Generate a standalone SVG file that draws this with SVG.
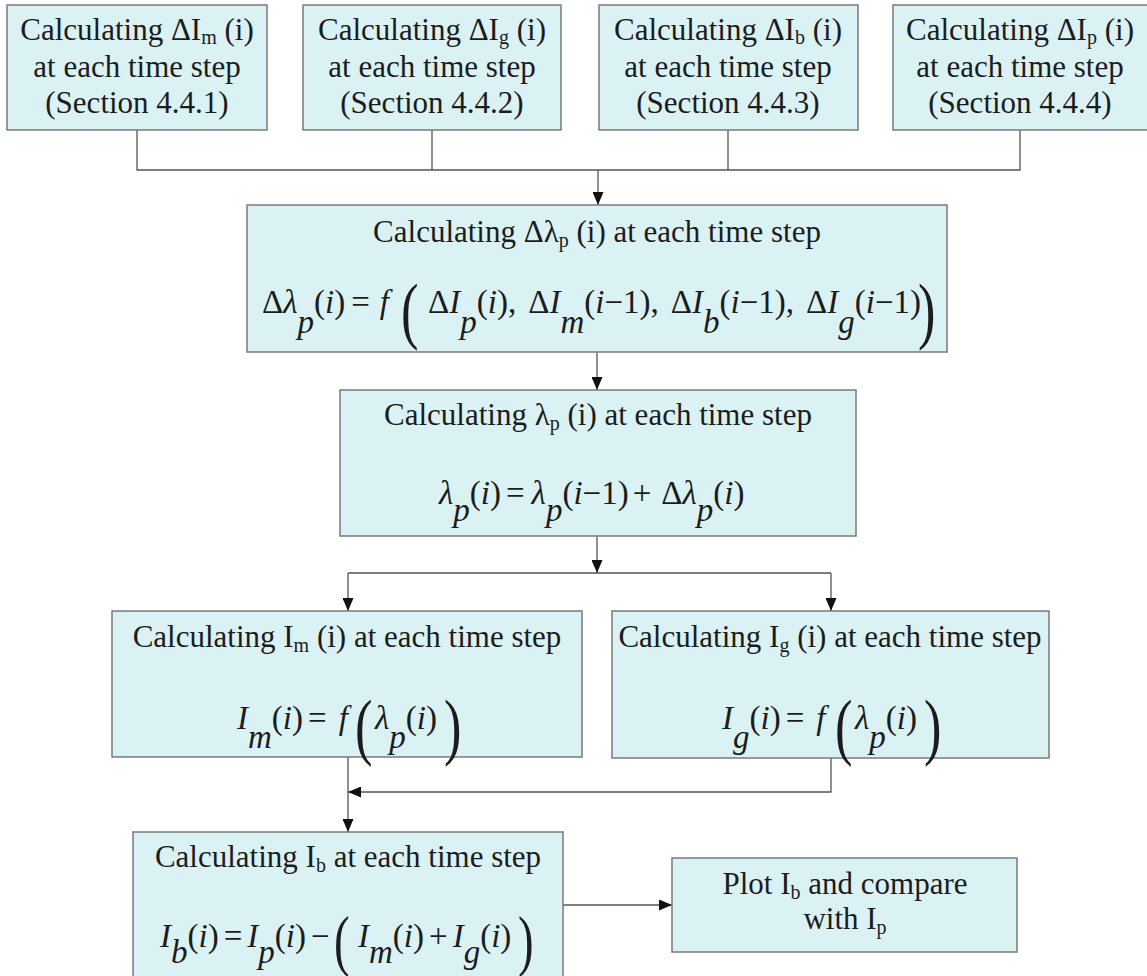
<svg xmlns="http://www.w3.org/2000/svg" width="1147" height="976" viewBox="0 0 1147 976">
<style>
.bx{fill:#dbf2f5;stroke:#7a7a7a;stroke-width:1.5}
.t{font-family:"Liberation Serif","Times New Roman",serif;font-size:31px;fill:#1c1c1c}
.c{text-anchor:middle}
.s{font-size:20px}
.m{font-family:"Liberation Serif","Times New Roman",serif;font-size:33px;fill:#1c1c1c}
.i{font-style:italic}
.big{font-family:"Liberation Serif","Times New Roman",serif;fill:#1c1c1c}
.ln{fill:none;stroke:#555;stroke-width:1.3}
</style>
<defs>
<marker id="ah" viewBox="0 0 13 11" refX="13" refY="5.5" markerWidth="13" markerHeight="11" markerUnits="userSpaceOnUse" orient="auto">
<path d="M0,0 L13,5.5 L0,11 z" fill="#111"/>
</marker>
</defs>
<rect width="1147" height="976" fill="#fff"/>

<g id="connectors">
<path class="ln" d="M137,130 V170 H1020 V130 M432,130 V170 M728,130 V170"/>
<path class="ln" d="M598,170 V205" marker-end="url(#ah)"/>
<path class="ln" d="M597,352 V390" marker-end="url(#ah)"/>
<path class="ln" d="M597,536 V573" marker-end="url(#ah)"/>
<path class="ln" d="M348,573 H831"/>
<path class="ln" d="M348,573 V611" marker-end="url(#ah)"/>
<path class="ln" d="M831,573 V611" marker-end="url(#ah)"/>
<path class="ln" d="M348,757 V832" marker-end="url(#ah)"/>
<path class="ln" d="M831,758 V792 H348" marker-end="url(#ah)"/>
<path class="ln" d="M563,905 H672" marker-end="url(#ah)"/>
</g>

<g id="n1">
<rect class="bx" x="7" y="5" width="260" height="125"/>
<text class="t c" x="137" y="40">Calculating ΔI<tspan class="s" dy="4">m</tspan><tspan dy="-4"> (i)</tspan></text>
<text class="t c" x="137" y="77">at each time step</text>
<text class="t c" x="137" y="113">(Section 4.4.1)</text>
</g>
<g id="n2">
<rect class="bx" x="303" y="5" width="258" height="125"/>
<text class="t c" x="432" y="40">Calculating ΔI<tspan class="s" dy="4">g</tspan><tspan dy="-4"> (i)</tspan></text>
<text class="t c" x="432" y="77">at each time step</text>
<text class="t c" x="432" y="113">(Section 4.4.2)</text>
</g>
<g id="n3">
<rect class="bx" x="599" y="5" width="259" height="125"/>
<text class="t c" x="728" y="40">Calculating ΔI<tspan class="s" dy="4">b</tspan><tspan dy="-4"> (i)</tspan></text>
<text class="t c" x="728" y="77">at each time step</text>
<text class="t c" x="728" y="113">(Section 4.4.3)</text>
</g>
<g id="n4">
<rect class="bx" x="893" y="5" width="262" height="125"/>
<text class="t c" x="1020" y="40">Calculating ΔI<tspan class="s" dy="4">p</tspan><tspan dy="-4"> (i)</tspan></text>
<text class="t c" x="1020" y="77">at each time step</text>
<text class="t c" x="1020" y="113">(Section 4.4.4)</text>
</g>

<g id="n5">
<rect class="bx" x="247" y="205" width="700" height="147"/>
<text class="t c" x="597" y="242">Calculating Δλ<tspan class="s" dy="5">p</tspan><tspan dy="-5"> (i) at each time step</tspan></text>
<text class="m"><tspan x="262" y="313">Δ</tspan><tspan class="i">λ</tspan><tspan class="i" y="333">p</tspan><tspan y="313">(</tspan><tspan class="i">i</tspan><tspan>)</tspan><tspan dx="6">=</tspan><tspan class="i" dx="10">f</tspan><tspan x="428">Δ</tspan><tspan class="i">I</tspan><tspan class="i" y="333">p</tspan><tspan y="313">(</tspan><tspan class="i">i</tspan><tspan>),</tspan><tspan dx="12">Δ</tspan><tspan class="i">I</tspan><tspan class="i" y="333">m</tspan><tspan y="313">(</tspan><tspan class="i">i</tspan><tspan>−1),</tspan><tspan dx="12">Δ</tspan><tspan class="i">I</tspan><tspan class="i" y="333">b</tspan><tspan y="313">(</tspan><tspan class="i">i</tspan><tspan>−1),</tspan><tspan dx="12">Δ</tspan><tspan class="i">I</tspan><tspan class="i" y="333">g</tspan><tspan y="313">(</tspan><tspan class="i">i</tspan><tspan>−1)</tspan></text>
<text class="big" font-size="75" transform="translate(401,335) scale(0.7,1)">(</text>
<text class="big" font-size="75" transform="translate(918,335) scale(0.7,1)">)</text>
</g>

<g id="n6">
<rect class="bx" x="340" y="390" width="516" height="146"/>
<text class="t c" x="598" y="425">Calculating λ<tspan class="s" dy="5">p</tspan><tspan dy="-5"> (i) at each time step</tspan></text>
<text class="m"><tspan class="i" x="439" y="504">λ</tspan><tspan class="i" y="521">p</tspan><tspan y="504">(</tspan><tspan class="i">i</tspan><tspan>)</tspan><tspan dx="5">=</tspan><tspan class="i" dx="7">λ</tspan><tspan class="i" y="521">p</tspan><tspan y="504">(</tspan><tspan class="i">i</tspan><tspan>−1)</tspan><tspan dx="4">+</tspan><tspan dx="10">Δ</tspan><tspan class="i">λ</tspan><tspan class="i" y="521">p</tspan><tspan y="504">(</tspan><tspan class="i">i</tspan><tspan>)</tspan></text>
</g>

<g id="n7">
<rect class="bx" x="112" y="611" width="470" height="146"/>
<text class="t c" x="347" y="647">Calculating I<tspan class="s" dy="5">m</tspan><tspan dy="-5"> (i) at each time step</tspan></text>
<text class="m"><tspan class="i" x="237" y="729">I</tspan><tspan class="i" y="748">m</tspan><tspan y="729">(</tspan><tspan class="i">i</tspan><tspan>)</tspan><tspan dx="5">=</tspan><tspan class="i" dx="12">f</tspan><tspan class="i" x="375">λ</tspan><tspan class="i" y="748">p</tspan><tspan y="729">(</tspan><tspan class="i">i</tspan><tspan>)</tspan></text>
<text class="big" font-size="75" transform="translate(355,751) scale(0.7,1)">(</text>
<text class="big" font-size="75" transform="translate(444,751) scale(0.7,1)">)</text>
</g>

<g id="n8">
<rect class="bx" x="612" y="611" width="437" height="147"/>
<text class="t c" x="830" y="647">Calculating I<tspan class="s" dy="5">g</tspan><tspan dy="-5"> (i) at each time step</tspan></text>
<text class="m"><tspan class="i" x="722" y="729">I</tspan><tspan class="i" y="748">g</tspan><tspan y="729">(</tspan><tspan class="i">i</tspan><tspan>)</tspan><tspan dx="5">=</tspan><tspan class="i" dx="12">f</tspan><tspan class="i" x="855">λ</tspan><tspan class="i" y="748">p</tspan><tspan y="729">(</tspan><tspan class="i">i</tspan><tspan>)</tspan></text>
<text class="big" font-size="75" transform="translate(835,751) scale(0.7,1)">(</text>
<text class="big" font-size="75" transform="translate(924,751) scale(0.7,1)">)</text>
</g>

<g id="n9">
<rect class="bx" x="133" y="832" width="430" height="160"/>
<text class="t c" x="348" y="867">Calculating I<tspan class="s" dy="5">b</tspan><tspan dy="-5"> at each time step</tspan></text>
<text class="m"><tspan class="i" x="160" y="947">I</tspan><tspan class="i" y="963">b</tspan><tspan y="947">(</tspan><tspan class="i">i</tspan><tspan>)</tspan><tspan dx="5">=</tspan><tspan class="i" dx="5">I</tspan><tspan class="i" y="963">p</tspan><tspan y="947">(</tspan><tspan class="i">i</tspan><tspan>)</tspan><tspan dx="5">−</tspan><tspan class="i" x="358">I</tspan><tspan class="i" y="963">m</tspan><tspan y="947">(</tspan><tspan class="i">i</tspan><tspan>)</tspan><tspan dx="5">+</tspan><tspan class="i" dx="5">I</tspan><tspan class="i" y="963">g</tspan><tspan y="947">(</tspan><tspan class="i">i</tspan><tspan>)</tspan></text>
<text class="big" font-size="67" transform="translate(334,963) scale(0.7,1)">(</text>
<text class="big" font-size="67" transform="translate(518,963) scale(0.7,1)">)</text>
</g>

<g id="n10">
<rect class="bx" x="672" y="858" width="345" height="94"/>
<text class="t c" x="845" y="894">Plot I<tspan class="s" dy="5">b</tspan><tspan dy="-5"> and compare</tspan></text>
<text class="t c" x="845" y="929">with I<tspan class="s" dy="5">p</tspan></text>
</g>
</svg>
